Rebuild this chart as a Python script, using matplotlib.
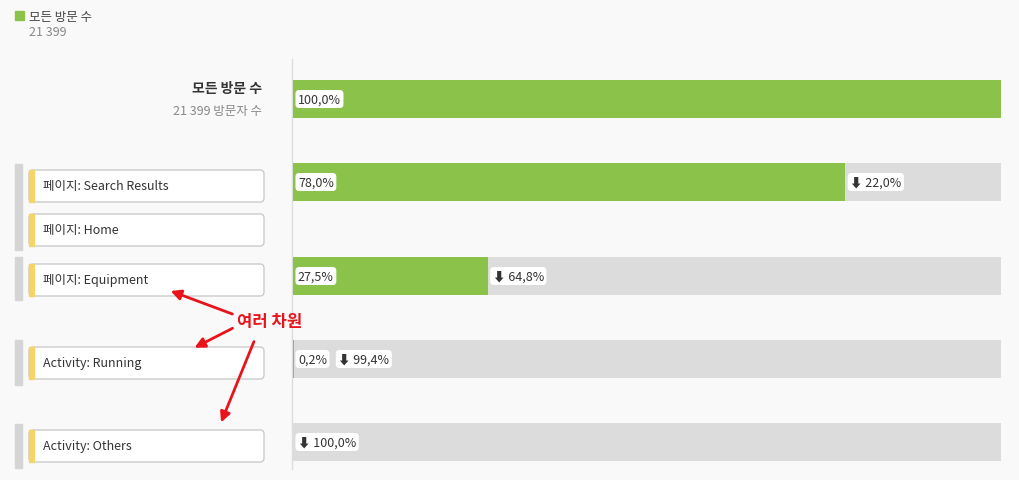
import matplotlib.pyplot as plt
from matplotlib.patches import FancyBboxPatch, Rectangle

plt.rcParams['font.family'] = ['Noto Sans CJK KR', 'DejaVu Sans']

# data
steps = ["페이지: Search Results", "페이지: Home", "페이지: Equipment", "Activity: Running", "Activity: Others"]
step_group = [0, 0, 1, 2, 3]
group_pct = [78.0, 27.5, 0.2, 0.0]
group_drop = [22.0, 64.8, 99.4, 100.0]
total_label = "모든 방문 수"
total_visitors = "21 399"

fig = plt.figure(figsize=(10.19, 4.81), dpi=100)
fig.patch.set_facecolor('#f9f9f9')
ax = fig.add_axes([0, 0, 1, 1])
ax.set_xlim(0, 1019); ax.set_ylim(481, 0); ax.axis('off')

green = '#8bc34a'
gray = '#dcdcdc'

# legend
ax.add_patch(Rectangle((15, 12), 9, 9, color=green))
ax.text(29, 17, total_label, fontsize=9, va='center', color='#444')
ax.text(29, 33, total_visitors, fontsize=9, va='center', color='#888')

# header row
ax.text(262, 89, total_label, fontsize=10, ha='right', va='center', weight='bold', color='#333')
ax.text(262, 111, total_visitors + " 방문자 수", fontsize=9, ha='right', va='center', color='#888')
ax.plot([292, 292], [60, 470], color='#dddddd', lw=1)

# step boxes on left
step_y = [187, 231, 281, 364, 447]
group_span = [(165, 251), (258, 301), (341, 386), (425, 469)]
for top, bot in group_span:
    ax.add_patch(Rectangle((15, top), 7, bot - top, color='#d5d5d5'))
for name, y in zip(steps, step_y):
    ax.add_patch(FancyBboxPatch((29, y - 16), 235, 32, boxstyle="round,pad=0,rounding_size=4",
                                fc='white', ec='#cccccc', lw=1))
    ax.add_patch(Rectangle((29, y - 16), 5, 32, color='#f5d46a'))
    ax.text(43, y, name, fontsize=9, va='center', color='#333')

# bars
bx = fig.add_axes([293 / 1019, 0, (1001 - 293) / 1019, 1])
bx.set_xlim(0, 100); bx.set_ylim(481, 0); bx.axis('off')
bar_y = [100] + [183, 277, 360, 443]
pcts = [100.0] + group_pct
drops = [None] + group_drop
lbl = dict(boxstyle="round,pad=0.2,rounding_size=0.3", fc='white', ec='none')
for y, p, d in zip(bar_y, pcts, drops):
    if d is not None:
        bx.barh(y, 100, height=38, color=gray, left=0)
    bx.barh(y, p, height=38, color=green)
    if p > 0:
        bx.text(0.7, y, f"{p:.1f}%".replace('.', ','), fontsize=9, va='center', color='#333', bbox=lbl)
    if d is not None:
        xd = p + 0.7 if p > 5 else (p + 6.2 if p > 0 else 0.7)
        bx.text(xd, y, f"⬇ {d:.1f}%".replace('.', ','), fontsize=9, va='center', color='#333', bbox=lbl)

# annotation
ax.text(237, 322, "여러 차원", fontsize=12, color='#e8141b', weight='bold', va='center')
for tx, ty, sx, sy in [(168, 291, 235, 316), (192, 350, 235, 328), (220, 426, 255, 340)]:
    ax.annotate("", xy=(tx, ty), xytext=(sx, sy),
                arrowprops=dict(arrowstyle='-|>', color='#e8141b', lw=2, mutation_scale=15))

fig.savefig("out.png", dpi=100, facecolor=fig.get_facecolor())
